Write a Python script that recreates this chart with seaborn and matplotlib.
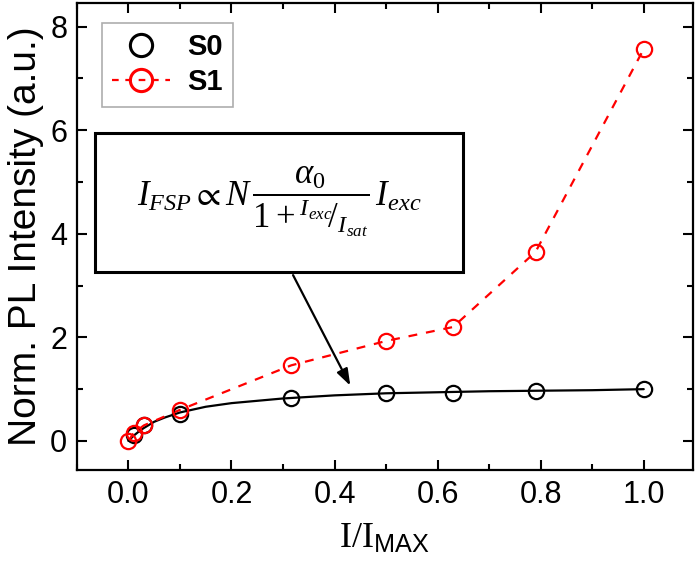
import numpy as np
import pandas as pd
import matplotlib
matplotlib.use("Agg")
import matplotlib.pyplot as plt
import seaborn as sns
from matplotlib.lines import Line2D
from matplotlib.patches import Rectangle
from matplotlib.ticker import MultipleLocator

# measured points
s0_x = [0.01, 0.03, 0.1, 0.316, 0.5, 0.63, 0.79, 1.0]
s0_y = [0.12, 0.30, 0.52, 0.82, 0.93, 0.93, 0.97, 1.0]

s1_x = [0.0, 0.01, 0.03, 0.1, 0.316, 0.5, 0.63, 0.79, 1.0]
s1_y = [0.0, 0.15, 0.30, 0.60, 1.46, 1.93, 2.20, 3.65, 7.57]

# saturation fit of S0
fit_x = [0.0, 0.01, 0.02, 0.03, 0.05, 0.07, 0.1, 0.15, 0.2, 0.3, 0.4, 0.5, 0.6, 0.7, 0.8, 0.9, 1.0]
fit_y = [0.0, 0.10, 0.18, 0.25, 0.37, 0.45, 0.55, 0.66, 0.73, 0.82, 0.88, 0.92, 0.94, 0.96, 0.97, 0.98, 1.0]

s0 = pd.DataFrame({"x": s0_x, "y": s0_y})
s1 = pd.DataFrame({"x": s1_x, "y": s1_y})
fit = pd.DataFrame({"x": fit_x, "y": fit_y})

sns.set_style("ticks")
plt.rcParams["font.family"] = ["Liberation Sans", "DejaVu Sans"]
plt.rcParams["mathtext.fontset"] = "custom"
plt.rcParams["mathtext.rm"] = "Liberation Serif"
plt.rcParams["mathtext.it"] = "Liberation Serif:italic"
plt.rcParams["mathtext.sf"] = "Liberation Sans"
plt.rcParams["mathtext.fallback"] = "stix"
for key in ["text.color", "axes.labelcolor", "axes.edgecolor",
            "xtick.color", "ytick.color"]:
    plt.rcParams[key] = "black"

fig = plt.figure(figsize=(6.99, 5.71), dpi=100)
ax = fig.add_axes([0.110, 0.177, 0.881, 0.818])

# fit curve and data
sns.lineplot(data=fit, x="x", y="y", ax=ax, color="black", lw=1.6, zorder=2)
sns.lineplot(data=s1, x="x", y="y", ax=ax, color="red", lw=1.6, zorder=3,
             linestyle=(0, (4, 4)))
ax.plot(s1["x"], s1["y"], ls="none", marker="o", ms=11, mfc="none",
        mec="red", mew=1.6, zorder=4)
ax.plot(s0["x"], s0["y"], ls="none", marker="o", ms=11, mfc="none",
        mec="black", mew=1.6, zorder=3)

ax.set_xlim(-0.1, 1.095)
ax.set_ylim(-0.56, 8.46)
ax.xaxis.set_major_locator(MultipleLocator(0.2))
ax.xaxis.set_minor_locator(MultipleLocator(0.1))
ax.yaxis.set_major_locator(MultipleLocator(2))
ax.yaxis.set_minor_locator(MultipleLocator(1))
ax.tick_params(which="both", direction="in", top=True, right=True,
               labelsize=22, width=1.5, pad=7)
ax.tick_params(which="major", length=7)
ax.tick_params(which="minor", length=4)
for sp in ax.spines.values():
    sp.set_linewidth(1.6)

ax.set_xlabel(r"$\mathrm{I/I}_{\mathsf{MAX}}$", fontsize=26, labelpad=8)
ax.set_ylabel("Norm. PL Intensity (a.u.)", fontsize=28, labelpad=4)

# formula box
ax.add_patch(Rectangle((-0.064, 3.27), 0.713, 2.68, facecolor="white",
                       edgecolor="black", lw=2.2, zorder=5))
ax.text(0.293, 4.62,
        r"$I_{FSP}\propto N\,\dfrac{\alpha_0}{1+{}^{I_{exc}}\!/_{I_{sat}}}\,I_{exc}$",
        fontsize=25, ha="center", va="center", zorder=6)
ax.annotate("", xy=(0.433, 1.02), xytext=(0.317, 3.25),
            arrowprops=dict(arrowstyle="-|>,head_length=1.0,head_width=0.35",
                            color="black", lw=1.6), zorder=6)

handles = [
    Line2D([], [], ls="none", marker="o", ms=16, mfc="none", mec="black", mew=2.2),
    Line2D([], [], color="red", lw=1.6, ls=(0, (3, 3)), marker="o", ms=16,
           mfc="none", mec="red", mew=2.2),
]
leg = ax.legend(handles, ["S0", "S1"], loc="upper left",
                bbox_to_anchor=(0.04, 0.957), borderaxespad=0,
                prop={"weight": "bold", "size": 21}, frameon=True,
                fancybox=False, edgecolor="#999999", handlelength=2.0,
                labelspacing=0.25, borderpad=0.35, handletextpad=0.6)
leg.get_frame().set_linewidth(1.2)

fig.savefig("out.png", dpi=100)
